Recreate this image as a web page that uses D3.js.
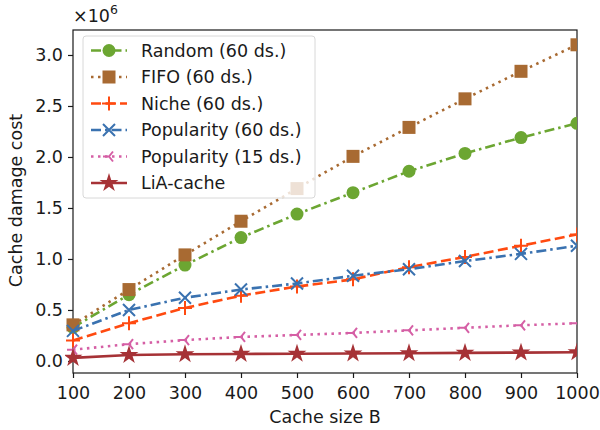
<!DOCTYPE html>
<html lang="en">
<head>
  <meta charset="UTF-8" />
  <script src="https://d3js.org/d3.v7.min.js"></script>
  <style>
    body { margin: 0; background: #fff; }
    text { font-family: "DejaVu Sans", sans-serif; fill: #1a1a1a; }
  </style>
</head>
<body>
  <div id="chart"></div>
  <script>
    // cache sizes and damage cost (x 10^6)
    const cacheSizes = [100, 200, 300, 400, 500, 600, 700, 800, 900, 1000];
    const randomVals = [0.33, 0.65, 0.94, 1.21, 1.44, 1.65, 1.86, 2.035, 2.19, 2.33];
    const fifoVals = [0.354, 0.70, 1.04, 1.37, 1.69, 2.006, 2.29, 2.57, 2.84, 3.10];
    const nicheVals = [0.20, 0.37, 0.52, 0.64, 0.73, 0.80, 0.92, 1.02, 1.13, 1.24];
    const pop60Vals = [0.295, 0.50, 0.62, 0.70, 0.76, 0.835, 0.90, 0.98, 1.05, 1.13];
    const pop15Vals = [0.11, 0.165, 0.205, 0.235, 0.255, 0.275, 0.30, 0.325, 0.35, 0.37];
    const liaVals = [0.03, 0.058, 0.066, 0.069, 0.071, 0.073, 0.076, 0.079, 0.082, 0.085];
    const xTicks = [100, 200, 300, 400, 500, 600, 700, 800, 900, 1000];
    const yTicks = [0, 0.5, 1.0, 1.5, 2.0, 2.5, 3.0];

    const series = [
      {name: "Random (60 ds.)", vals: randomVals, color: "#6ca632", dash: "10,4,2.5,4", marker: "circle"},
      {name: "FIFO (60 ds.)", vals: fifoVals, color: "#a86a32", dash: "2.5,4.5", marker: "square"},
      {name: "Niche (60 ds.)", vals: nicheVals, color: "#ff4a10", dash: "10,4.5", marker: "plus"},
      {name: "Popularity (60 ds.)", vals: pop60Vals, color: "#3a72b0", dash: "10,4,2.5,4", marker: "x"},
      {name: "Popularity (15 ds.)", vals: pop15Vals, color: "#d55fa5", dash: "2.5,4.5", marker: "tri"},
      {name: "LiA-cache", vals: liaVals, color: "#a63236", dash: null, marker: "star"}
    ];

    const fs = "17.5px";

    let margin = {top: 30, right: 23, bottom: 57, left: 73},
        width = 600 - margin.left - margin.right,
        height = 430 - margin.top - margin.bottom;

    let svg = d3.select("#chart").append("svg")
        .attr("width", 600).attr("height", 430);
    let g = svg.append("g")
        .attr("transform", "translate(" + margin.left + "," + margin.top + ")");

    let x = d3.scaleLinear().domain([100, 1000]).range([0, width]);
    let y = d3.scaleLinear().domain([-0.118, 3.245]).range([height, 0]);

    // axes
    let xAxis = g.append("g")
        .attr("transform", "translate(0," + height + ")")
        .call(d3.axisBottom(x).tickValues(xTicks).tickSize(5).tickPadding(9).tickFormat(d3.format("d")));
    let yAxis = g.append("g")
        .call(d3.axisLeft(y).tickValues(yTicks).tickSize(5).tickPadding(5).tickFormat(d3.format(".1f")));
    [xAxis, yAxis].forEach(a => {
      a.selectAll("text").style("font-size", fs).style("font-family", "DejaVu Sans").attr("fill", "#1a1a1a");
      a.selectAll("line").attr("stroke", "#1a1a1a").attr("stroke-width", 1.2);
      a.select(".domain").remove();
    });

    // frame
    g.append("rect")
      .attr("width", width).attr("height", height)
      .attr("fill", "none").attr("stroke", "#1a1a1a").attr("stroke-width", 1.2);

    // clip
    svg.append("defs").append("clipPath").attr("id", "clip")
      .append("rect").attr("x", -8).attr("y", 0).attr("width", width + 8).attr("height", height + 8);

    function drawMarker(sel, type, color) {
      if (type === "circle") {
        sel.append("circle").attr("r", 6.5).attr("fill", color);
      } else if (type === "square") {
        sel.append("rect").attr("x", -6.5).attr("y", -6.5).attr("width", 13).attr("height", 13)
          .attr("fill", color);
      } else if (type === "plus") {
        sel.append("path").attr("d", "M-7,0H7M0,-7V7").attr("stroke", color).attr("stroke-width", 2).attr("fill", "none");
      } else if (type === "x") {
        sel.append("path").attr("d", "M-6,-6L6,6M-6,6L6,-6").attr("stroke", color).attr("stroke-width", 2).attr("fill", "none");
      } else if (type === "tri") {
        sel.append("path").attr("d", "M0,0H-6M0,0L4,-5M0,0L4,5").attr("stroke", color).attr("stroke-width", 2).attr("fill", "none");
      } else if (type === "star") {
        sel.append("path").attr("d", d3.symbol(d3.symbolStar, 110)()).attr("fill", color);
      }
    }

    let plot = g.append("g").attr("clip-path", "url(#clip)");
    series.forEach(s => {
      let pts = cacheSizes.map((c, i) => [c, s.vals[i]]);
      let line = d3.line().x(d => x(d[0])).y(d => y(d[1]));
      plot.append("path")
        .datum(pts)
        .attr("d", line)
        .attr("fill", "none")
        .attr("stroke", s.color)
        .attr("stroke-width", 2.6)
        .attr("stroke-dasharray", s.dash);
      plot.selectAll(null)
        .data(pts)
        .enter()
        .append("g")
          .attr("transform", d => "translate(" + x(d[0]) + "," + y(d[1]) + ")")
          .each(function() { drawMarker(d3.select(this), s.marker, s.color); });
    });

    // legend
    let legend = g.append("g").attr("transform", "translate(10,6)");
    legend.append("rect")
      .attr("width", 232).attr("height", 162).attr("rx", 3)
      .attr("fill", "white").attr("fill-opacity", 0.8)
      .attr("stroke", "#d8d8d8").attr("stroke-width", 1);
    series.forEach((s, i) => {
      let row = legend.append("g").attr("transform", "translate(0," + (14.5 + i * 26.5) + ")");
      row.append("line")
        .attr("x1", 8).attr("x2", 44).attr("y1", 0).attr("y2", 0)
        .attr("stroke", s.color).attr("stroke-width", 2.6)
        .attr("stroke-dasharray", s.dash);
      let m = row.append("g").attr("transform", "translate(26,0)");
      drawMarker(m, s.marker, s.color);
      row.append("text")
        .attr("x", 58).attr("y", 0).attr("dy", "0.36em")
        .style("font-size", fs)
        .text(s.name);
    });

    // labels
    svg.append("text")
      .attr("x", margin.left + width / 2).attr("y", 423)
      .attr("text-anchor", "middle").style("font-size", fs)
      .text("Cache size B");
    svg.append("text")
      .attr("transform", "translate(22," + (margin.top + height / 2 - 1) + ") rotate(-90)")
      .attr("text-anchor", "middle").style("font-size", fs)
      .text("Cache damage cost");
    let mult = svg.append("text")
      .attr("x", margin.left).attr("y", 22).style("font-size", fs);
    mult.append("tspan").text("×10");
    mult.append("tspan").attr("dy", -8).style("font-size", "12.5px").text("6");
  </script>
</body>
</html>
